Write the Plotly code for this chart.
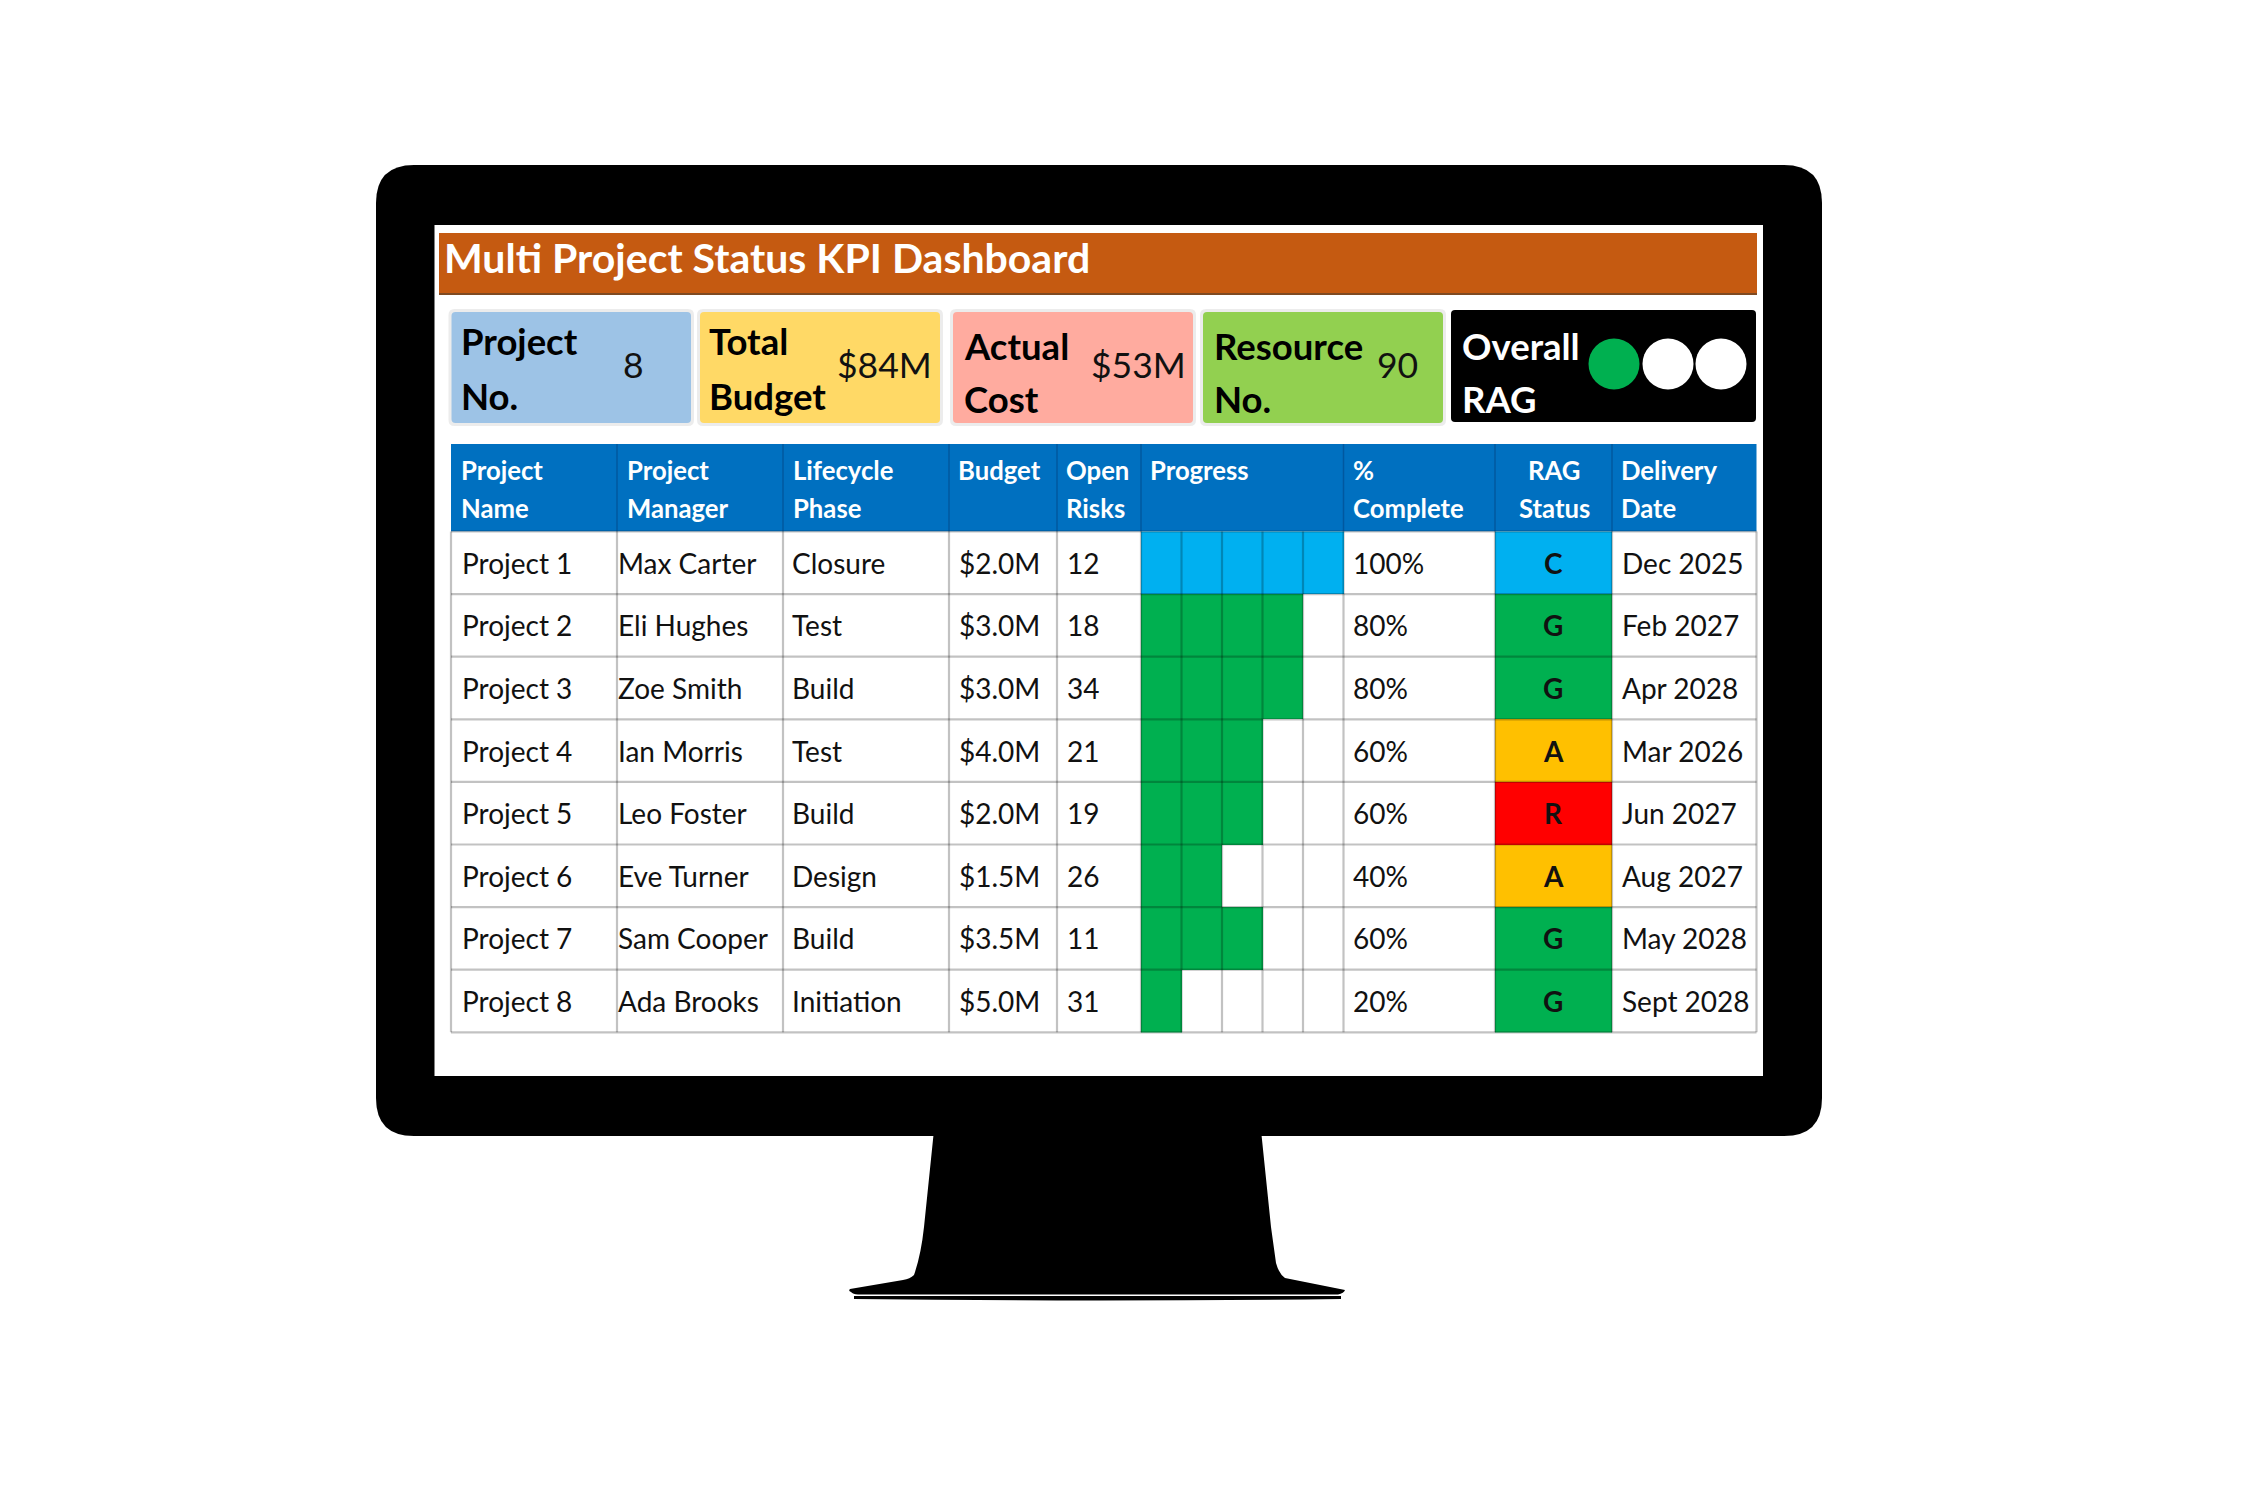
import plotly.graph_objects as go

# ---------- data ----------
TITLE = "Multi Project Status KPI Dashboard"
projects = [f"Project {i}" for i in range(1, 9)]
managers = ["Max Carter", "Eli Hughes", "Zoe Smith", "Ian Morris", "Leo Foster", "Eve Turner", "Sam Cooper", "Ada Brooks"]
phases = ["Closure", "Test", "Build", "Test", "Build", "Design", "Build", "Initiation"]
budgets = [2.0, 3.0, 3.0, 4.0, 2.0, 1.5, 3.5, 5.0]
open_risks = [12, 18, 34, 21, 19, 26, 11, 31]
pct_complete = [100, 80, 80, 60, 60, 40, 60, 20]
rag_status = ["C", "G", "G", "A", "R", "A", "G", "G"]
delivery = ["Dec 2025", "Feb 2027", "Apr 2028", "Mar 2026", "Jun 2027", "Aug 2027", "May 2028", "Sept 2028"]

header_labels = ["Project<br>Name", "Project<br>Manager", "Lifecycle<br>Phase", "Budget", "Open<br>Risks",
                 "Progress", "%<br>Complete", "RAG<br>Status", "Delivery<br>Date"]
kpi_labels = ["Project<br>No.", "Total<br>Budget", "Actual<br>Cost", "Resource<br>No."]
kpi_values = ["8", "$84M", "$53M", "90"]
overall_label = "Overall<br>RAG"
overall_lights = ["green", "off", "off"]

# ---------- layout constants (page pixels) ----------
W, H = 2244, 1498
FONT = "Lato"
BLUE_HDR, ORANGE = "#0070C0", "#C55A11"
RAG_COLORS = {"C": "#00B0F0", "G": "#00B050", "A": "#FFC000", "R": "#FF0000"}
GRID = "rgba(0,0,0,0.24)"
PAD = 3.5  # annotation box padding to cancel for left-anchored text

col_x = [451, 617, 783, 949, 1057, 1141, 1343.5, 1495, 1612, 1756.5]
row_top, row_h, hdr_top = 531.5, 62.6, 444
row_y = [row_top + i * row_h for i in range(9)]
cell_x = [col_x[5] + i * (col_x[6] - col_x[5]) / 5 for i in range(6)]

shapes, ann = [], []


def rect(x0, y0, x1, y1, color, layer="below"):
    shapes.append(dict(type="rect", x0=x0, y0=y0, x1=x1, y1=y1, xref="x", yref="y",
                       fillcolor=color, line_width=0, layer=layer))


def rrect(x0, y0, x1, y1, r, color, layer="below"):
    p = (f"M {x0+r} {y0} L {x1-r} {y0} Q {x1} {y0} {x1} {y0+r} L {x1} {y1-r} Q {x1} {y1} {x1-r} {y1} "
         f"L {x0+r} {y1} Q {x0} {y1} {x0} {y1-r} L {x0} {y0+r} Q {x0} {y0} {x0+r} {y0} Z")
    shapes.append(dict(type="path", path=p, xref="x", yref="y", fillcolor=color, line_width=0, layer=layer))


def line(x0, y0, x1, y1, color=GRID, width=2.2):
    shapes.append(dict(type="line", x0=x0, y0=y0, x1=x1, y1=y1, xref="x", yref="y",
                       line=dict(color=color, width=width), layer="above"))


def text(x, y, s, size, color="#111111", bold=False, anchor="left"):
    ann.append(dict(x=x - PAD if anchor == "left" else x, y=y, xref="x", yref="y",
                    text=f"<b>{s}</b>" if bold else s, showarrow=False,
                    xanchor=anchor, yanchor="middle", align=anchor,
                    font=dict(family=FONT, size=size, color=color)))


def two_lines(x, y1, y2, s, size, color="#000000", anchor="left"):
    parts = s.split("<br>")
    text(x, y1, parts[0], size, color, True, anchor)
    if len(parts) > 1:
        text(x, y2, parts[1], size, color, True, anchor)


# ---------- monitor ----------
stand = ("M 934 1130 L 924 1227 Q 921 1255 914 1275 Q 910 1279 903 1280 L 850 1289 Q 848 1291 851 1292 "
         "Q 853 1294 858 1294.5 L 1338 1294.5 Q 1344 1293 1345 1290 L 1285 1278 Q 1279 1274 1276 1263 "
         "L 1271 1227 L 1261 1130 Z")
sliver = "M 854 1296 L 1341 1296 L 1341 1299 Q 1100 1302 854 1299 Z"
shapes.append(dict(type="path", path=stand, xref="x", yref="y", fillcolor="#000000", line_width=0, layer="below"))
shapes.append(dict(type="path", path=sliver, xref="x", yref="y", fillcolor="#000000", line_width=0, layer="below"))
rrect(376, 165, 1822, 1136, 38, "#000000")
rect(434.5, 225, 1763, 1076, "#FFFFFF")

# ---------- title ----------
rect(439, 233, 1757, 294, ORANGE)
rect(439, 293, 1757, 295, "#7F4A22")
text(445, 257, TITLE, 41, "#FFFFFF", True)

# ---------- KPI cards ----------
cards = [(451.5, 691, "#9DC3E6"), (700, 940, "#FFD966"), (953, 1193, "#FFAB9F"), (1203, 1443, "#92D050")]
label_x = [462, 710, 965, 1215]
label_y = [(341, 396), (341, 396), (346, 399), (346, 399)]
value_x = [633, 884, 1138, 1397]
for i, (x0, x1, c) in enumerate(cards):
    rrect(x0 - 3, 309, x1 + 3, 426, 6, "rgba(120,120,120,0.14)")
    rrect(x0, 312, x1, 423, 4, c)
    two_lines(label_x[i], label_y[i][0], label_y[i][1], kpi_labels[i], 36.5)
    text(value_x[i], 364, kpi_values[i], 35.5, "#111111", False, "center")
rrect(1451, 310, 1756, 422, 4, "#000000")
two_lines(1463, 346, 399, overall_label, 36.5, "#FFFFFF")

light_colors = {"green": "#00B050", "off": "#FFFFFF"}
light_x = [1614, 1668, 1721]

# ---------- table header ----------
rect(col_x[0], hdr_top, col_x[-1], row_y[0], BLUE_HDR)
hdr_text_x = [462, 628, 794, 959, 1067, 1151, 1354.5, 1554, 1622.5]
for i, label in enumerate(header_labels):
    parts = label.split("<br>")
    anchor = "center" if i == 7 else "left"
    text(hdr_text_x[i], 470, parts[0], 25.7, "#FFFFFF", True, anchor)
    if len(parts) > 1:
        text(hdr_text_x[i], 508, parts[1], 25.7, "#FFFFFF", True, anchor)
    if i > 0:
        line(col_x[i], hdr_top, col_x[i], row_y[0], "rgba(0,60,120,0.45)", 1.5)

# ---------- table body ----------
rect(col_x[0], row_y[0], col_x[-1], row_y[-1], "#FFFFFF")
body_x = [463, 619, 793.5, 960, 1068, 1354.5, 1623]
for r in range(8):
    yc = (row_y[r] + row_y[r + 1]) / 2
    values = [projects[r], managers[r], phases[r], f"${budgets[r]:.1f}M", str(open_risks[r]),
              f"{pct_complete[r]}%", delivery[r]]
    for x, v in zip(body_x, values):
        text(x, yc, v, 28)
    text(1553, yc, rag_status[r], 28, "#111111", True, "center")

# progress blocks and RAG cells are heatmaps on the shared axes
codes = {"W": 0, "C": 1, "G": 2, "A": 3, "R": 4}
scale_colors = ["#FFFFFF", RAG_COLORS["C"], RAG_COLORS["G"], RAG_COLORS["A"], RAG_COLORS["R"]]
colorscale = []
for i, c in enumerate(scale_colors):
    colorscale += [[i / 5, c], [(i + 1) / 5, c]]

progress_z = []
for p in pct_complete:
    fill = codes["C"] if p == 100 else codes["G"]
    n = p // 20
    progress_z.append([fill] * n + [codes["W"]] * (5 - n))
rag_z = [[codes[s]] for s in rag_status]

fig = go.Figure()
common = dict(colorscale=colorscale, zmin=0, zmax=5, showscale=False, hoverinfo="skip", xgap=0, ygap=0)
fig.add_trace(go.Heatmap(x=cell_x, y=row_y, z=progress_z, **common))
fig.add_trace(go.Heatmap(x=[col_x[7], col_x[8]], y=row_y, z=rag_z, **common))

# overall RAG lights
fig.add_trace(go.Scatter(x=light_x, y=[364] * 3, mode="markers", hoverinfo="skip",
                         marker=dict(size=51, color=[light_colors[s] for s in overall_lights], line_width=0)))

# grid lines
for y in row_y:
    line(col_x[0], y, col_x[-1], y)
for x in col_x + cell_x[1:-1]:
    line(x, row_y[0], x, row_y[-1])

fig.update_layout(
    width=W, height=H, autosize=False, margin=dict(l=0, r=0, t=0, b=0),
    paper_bgcolor="#FFFFFF", plot_bgcolor="#FFFFFF", showlegend=False,
    xaxis=dict(range=[0, W], visible=False, fixedrange=True),
    yaxis=dict(range=[H, 0], visible=False, fixedrange=True),
    shapes=shapes, annotations=ann,
)
fig.write_html("out.html", config=dict(displayModeBar=False),
               post_script="document.body.style.margin='0';")
